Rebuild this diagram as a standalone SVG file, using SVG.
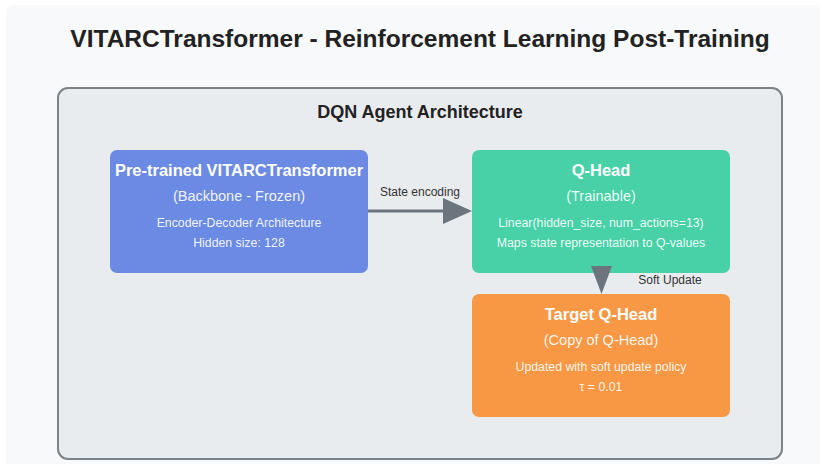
<svg xmlns="http://www.w3.org/2000/svg" width="820" height="464" viewBox="0 0 820 464">
  <defs>
    <style>
      text { font-family: "Liberation Sans", Arial, sans-serif; text-anchor: middle; }
      .title { font-size: 24.5px; font-weight: bold; fill: #222; }
      .panel-title { font-size: 18px; font-weight: bold; fill: #222; }
      .node-title { font-size: 16.5px; font-weight: bold; fill: #ffffff; }
      .node-sub { font-size: 14.5px; fill: #ffffff; fill-opacity: 0.92; }
      .node-detail { font-size: 12.3px; fill: #ffffff; fill-opacity: 0.92; }
      .edge-label { font-size: 12px; fill: #333; }
      .edge { stroke: #6c757d; stroke-width: 3; fill: none; }
      .head { fill: #6c757d; }
    </style>
  </defs>

  <rect x="0" y="0" width="820" height="464" fill="#ffffff"/>
  <rect x="6" y="5" width="830" height="480" rx="8" fill="#f8f9fa"/>

  <text class="title" x="420" y="47">VITARCTransformer - Reinforcement Learning Post-Training</text>

  <!-- Agent panel -->
  <g id="dqn-agent">
    <rect x="58" y="88" width="724" height="371" rx="10" fill="#e9ecef" stroke="#7b8288" stroke-width="2"/>
    <text class="panel-title" x="420" y="118">DQN Agent Architecture</text>
  </g>

  <g id="backbone">
    <rect x="110" y="150" width="258" height="123" rx="7" fill="#6b8ae3"/>
    <text class="node-title" x="239" y="176">Pre-trained VITARCTransformer</text>
    <text class="node-sub" x="239" y="201">(Backbone - Frozen)</text>
    <text class="node-detail" x="239" y="227">Encoder-Decoder Architecture</text>
    <text class="node-detail" x="239" y="247">Hidden size: 128</text>
  </g>

  <g id="q-head">
    <rect x="472" y="150" width="258" height="123" rx="7" fill="#48d0a7"/>
    <text class="node-title" x="601" y="176">Q-Head</text>
    <text class="node-sub" x="601" y="201">(Trainable)</text>
    <text class="node-detail" x="601" y="227">Linear(hidden_size, num_actions=13)</text>
    <text class="node-detail" x="601" y="247">Maps state representation to Q-values</text>
  </g>

  <g id="target-q-head">
    <rect x="472" y="294" width="258" height="123" rx="7" fill="#f89844"/>
    <text class="node-title" x="601" y="320">Target Q-Head</text>
    <text class="node-sub" x="601" y="345">(Copy of Q-Head)</text>
    <text class="node-detail" x="601" y="371">Updated with soft update policy</text>
    <text class="node-detail" x="601" y="391">τ = 0.01</text>
  </g>

  <g id="connectors">
    <line class="edge" x1="368" y1="211" x2="445" y2="211"/>
    <path class="head" d="M443,198 L472,211 L443,224 Z"/>
    <text class="edge-label" x="420" y="196">State encoding</text>

    <path class="head" d="M591,266 L612,266 L601.5,294 Z"/>
    <text class="edge-label" x="670" y="284">Soft Update</text>
  </g>
</svg>
